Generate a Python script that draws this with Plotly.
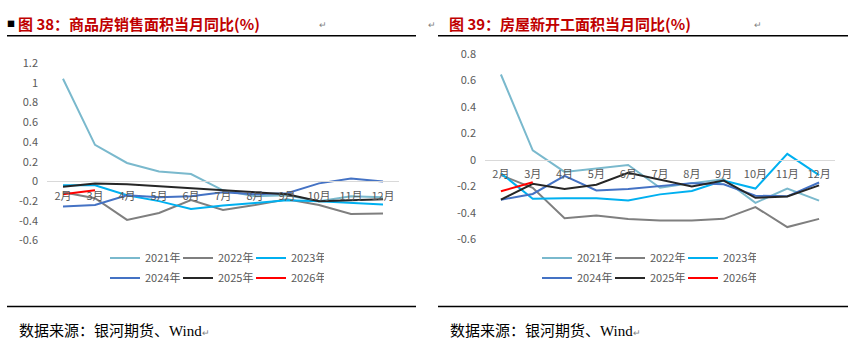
import plotly.graph_objects as go

# Categories
months = ["2月", "3月", "4月", "5月", "6月", "7月", "8月", "9月", "10月", "11月", "12月"]
years = ["2021年", "2022年", "2023年", "2024年", "2025年", "2026年"]

# Commodity housing sales area, monthly YoY
sales_2021 = [1.04, 0.37, 0.187, 0.10, 0.075, -0.09, -0.15, -0.14, -0.20, -0.15, -0.16]
sales_2022 = [-0.11, -0.17, -0.39, -0.32, -0.19, -0.29, -0.24, -0.18, -0.24, -0.33, -0.325]
sales_2023 = [-0.04, -0.04, -0.14, -0.20, -0.28, -0.245, -0.22, -0.19, -0.20, -0.22, -0.235]
sales_2024 = [-0.255, -0.24, -0.14, -0.16, -0.15, -0.11, -0.13, -0.12, -0.02, 0.03, 0.0]
sales_2025 = [-0.055, -0.022, -0.03, -0.05, -0.07, -0.088, -0.115, -0.13, -0.20, -0.19, -0.18]
sales_2026 = [-0.13, -0.09]

# New construction starts area, monthly YoY
starts_2021 = [0.646, 0.072, -0.09, -0.065, -0.038, -0.21, -0.175, -0.146, -0.324, -0.216, -0.307]
starts_2022 = [-0.115, -0.21, -0.44, -0.42, -0.446, -0.457, -0.457, -0.445, -0.356, -0.507, -0.445]
starts_2023 = [-0.10, -0.293, -0.29, -0.29, -0.307, -0.26, -0.235, -0.155, -0.216, 0.046, -0.115]
starts_2024 = [-0.30, -0.257, -0.12, -0.23, -0.22, -0.195, -0.175, -0.183, -0.27, -0.275, -0.17]
starts_2025 = [-0.30, -0.18, -0.22, -0.187, -0.097, -0.146, -0.20, -0.156, -0.286, -0.276, -0.192]
starts_2026 = [-0.237, -0.168]

# Y tick labels
left_ticks = [-0.6, -0.4, -0.2, 0, 0.2, 0.4, 0.6, 0.8, 1, 1.2]
left_tick_text = ["-0.6", "-0.4", "-0.2", "0", "0.2", "0.4", "0.6", "0.8", "1", "1.2"]
right_ticks = [-0.6, -0.4, -0.2, 0, 0.2, 0.4, 0.6, 0.8]
right_tick_text = ["-0.6", "-0.4", "-0.2", "0", "0.2", "0.4", "0.6", "0.8"]

titles = ["图 38：商品房销售面积当月同比(%)", "图 39：房屋新开工面积当月同比(%)"]
source = "数据来源：银河期货、Wind"

colors = ["#7AB9CD", "#7F7F7F", "#00B0F0", "#4472C4", "#262626", "#FF0000"]

W, H = 851, 347
CJK = "Noto Sans CJK SC"
TXT = "#595959"


def px_x(p):
    return p / W


def px_y(p):
    return 1 - p / H


left_series = [sales_2021, sales_2022, sales_2023, sales_2024, sales_2025, sales_2026]
right_series = [starts_2021, starts_2022, starts_2023, starts_2024, starts_2025, starts_2026]

fig = go.Figure()

# legends: two rows per panel
legend_names = {0: ("legend", "legend2"), 1: ("legend3", "legend4")}

for panel, series in enumerate([left_series, right_series]):
    xa = "x" if panel == 0 else "x2"
    ya = "y" if panel == 0 else "y2"
    for i, (name, vals) in enumerate(zip(years, series)):
        fig.add_trace(go.Scatter(
            x=months[:len(vals)], y=vals, name=name, mode="lines",
            line=dict(color=colors[i], width=2),
            xaxis=xa, yaxis=ya,
            legend=legend_names[panel][0 if i < 3 else 1],
            hoverinfo="skip",
        ))

# plot areas (pixels)
left_box = dict(x0=47, x1=399, top=56.6, bottom=242.8, rng=[-0.6, 1.2])
right_box = dict(x0=485, x1=835, top=47.3, bottom=241.5, rng=[-0.6, 0.8])


def zero_pos(box):
    y0, y1 = px_y(box["bottom"]), px_y(box["top"])
    lo, hi = box["rng"]
    return y0 + (0 - lo) / (hi - lo) * (y1 - y0)


tick_font = dict(family=CJK, size=11, color=TXT)

for k, (box, ticks, ttext) in enumerate([(left_box, left_ticks, left_tick_text),
                                          (right_box, right_ticks, right_tick_text)]):
    sfx = "" if k == 0 else "2"
    fig.update_layout({
        "xaxis" + sfx: dict(
            domain=[px_x(box["x0"]), px_x(box["x1"])],
            anchor="free", position=zero_pos(box),
            type="category", categoryorder="array", categoryarray=months,
            range=[-0.5, len(months) - 0.5],
            showgrid=False, zeroline=False, showline=True,
            linecolor="#D9D9D9", linewidth=1, ticks="",
            tickfont=tick_font, ticklabelstandoff=4,
            fixedrange=True,
        ),
        "yaxis" + sfx: dict(
            domain=[px_y(box["bottom"]), px_y(box["top"])],
            anchor="x" + sfx, range=box["rng"],
            tickvals=ticks, ticktext=ttext,
            showgrid=False, zeroline=False, showline=False, ticks="",
            tickfont=tick_font, ticklabelstandoff=8,
            fixedrange=True,
        ),
    })

leg_common = dict(orientation="h", font=dict(family=CJK, size=11, color=TXT),
                  bgcolor="rgba(0,0,0,0)", xanchor="left", yanchor="middle",
                  itemwidth=30, tracegroupgap=0,
                  entrywidth=28, entrywidthmode="pixels")
fig.update_layout(
    legend=dict(x=px_x(105), y=px_y(261), **leg_common),
    legend2=dict(x=px_x(105), y=px_y(282), **leg_common),
    legend3=dict(x=px_x(537), y=px_y(261), **leg_common),
    legend4=dict(x=px_x(537), y=px_y(282), **leg_common),
)

shapes = []
annotations = []
for k, (x0, x1, tx) in enumerate([(7, 416, 16), (438, 848, 447)]):
    for yy in (28, 312):
        shapes.append(dict(type="line", xref="paper", yref="paper",
                           x0=px_x(x0), x1=px_x(x1), y0=px_y(yy), y1=px_y(yy),
                           line=dict(color="black", width=1.5)))
    annotations.append(dict(
        x=px_x(tx), y=px_y(15), xref="paper", yref="paper",
        xanchor="left", yanchor="middle", showarrow=False,
        text="<b>" + titles[k] + "</b>",
        font=dict(family=CJK, size=15, color="#C00000"),
    ))
    annotations.append(dict(
        x=px_x(tx + 1), y=px_y(338), xref="paper", yref="paper",
        xanchor="left", yanchor="middle", showarrow=False,
        text=source + "<span style='font-size:9px;color:#7F7F7F'>↵</span>",
        font=dict(family="Liberation Serif, " + CJK, size=15, color="black"),
    ))

# paragraph marks and bullet
annotations.append(dict(x=px_x(5), y=px_y(15), xref="paper", yref="paper",
                        xanchor="left", yanchor="middle", showarrow=False,
                        text="■", font=dict(family=CJK, size=8, color="black")))
for xx in (317, 426, 752):
    annotations.append(dict(x=px_x(xx), y=px_y(16), xref="paper", yref="paper",
                            xanchor="left", yanchor="middle", showarrow=False,
                            text="↵", font=dict(family=CJK, size=9, color="#7F7F7F")))

fig.update_layout(
    width=W, height=H,
    margin=dict(l=0, r=0, t=0, b=0),
    paper_bgcolor="white", plot_bgcolor="white",
    shapes=shapes, annotations=annotations,
    showlegend=True,
)

fig.write_html("out.html", config={"displayModeBar": False})
